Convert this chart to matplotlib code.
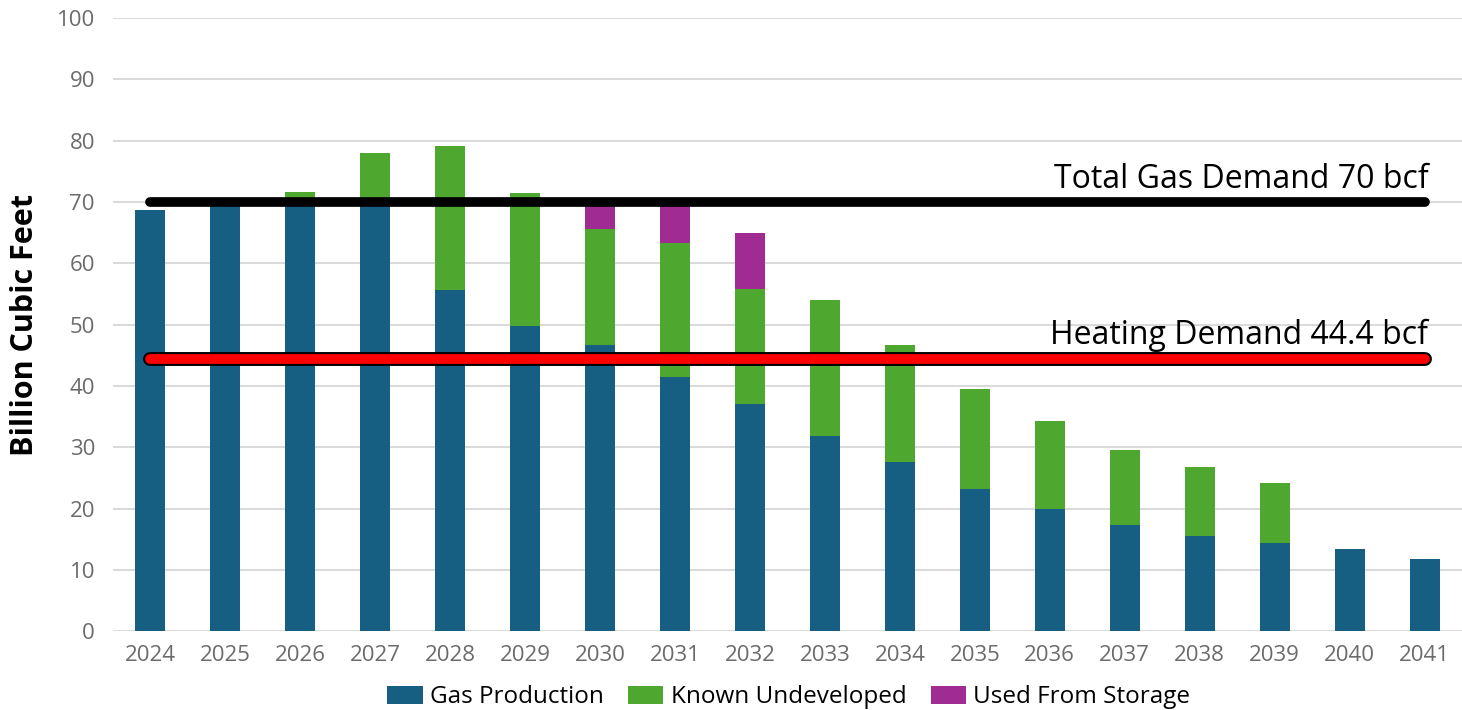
import matplotlib.pyplot as plt
import matplotlib.patheffects as pe
import numpy as np

plt.rcParams['font.family'] = ['Open Sans', 'DejaVu Sans']

# Data
years = [str(y) for y in range(2024, 2042)]
gas_production = [68.7, 69.6, 69.5, 69.3, 55.6, 49.8, 46.7, 41.4, 37.0,
                  31.8, 27.6, 23.2, 19.9, 17.3, 15.5, 14.4, 13.4, 11.7]
known_undeveloped = [0.0, 0.0, 2.1, 8.7, 23.5, 21.7, 18.9, 21.9, 18.8,
                     22.2, 19.1, 16.3, 14.4, 12.2, 11.3, 9.7, 0.0, 0.0]
used_from_storage = [0.0, 0.0, 0.0, 0.0, 0.0, 0.0, 4.4, 6.7, 9.1,
                     0.0, 0.0, 0.0, 0.0, 0.0, 0.0, 0.0, 0.0, 0.0]
total_demand = 70
heating_demand = 44.4

blue = "#175F82"
green = "#4EA72E"
purple = "#A02B93"

fig = plt.figure(figsize=(14.62, 7.10), dpi=100)
ax = fig.add_axes([0.0773, 0.111, 0.9227, 0.8636])

x = np.arange(len(years))
gas = np.array(gas_production)
known = np.array(known_undeveloped)
storage = np.array(used_from_storage)

w = 0.4
ax.bar(x, gas, w, color=blue, label="Gas Production", zorder=2)
ax.bar(x, known, w, bottom=gas, color=green, label="Known Undeveloped", zorder=2)
ax.bar(x, storage, w, bottom=gas + known, color=purple, label="Used From Storage", zorder=2)

# Demand lines
ax.plot([x[0], x[-1]], [total_demand, total_demand], color="black",
        lw=7, solid_capstyle="round", zorder=4)
ax.plot([x[0], x[-1]], [heating_demand, heating_demand], color="red",
        lw=7, solid_capstyle="round", zorder=4,
        path_effects=[pe.Stroke(linewidth=10, foreground="black"), pe.Normal()])

ax.text(x[-1] + 0.05, total_demand + 2.3, "Total Gas Demand 70 bcf", ha="right",
        va="baseline", fontsize=23, color="black")
ax.text(x[-1] + 0.05, heating_demand + 2.5, "Heating Demand 44.4 bcf", ha="right",
        va="baseline", fontsize=23, color="black")

ax.set_xlim(-0.5, len(years) - 0.5)
ax.set_ylim(0, 100)
ax.set_yticks(np.arange(0, 101, 10))
ax.set_xticks(x)
ax.set_xticklabels(years)
ax.tick_params(axis="both", length=0, labelsize=16, colors="#6b6b6b")
ax.tick_params(axis="x", pad=10)
ax.tick_params(axis="y", pad=13)
ax.yaxis.grid(True, color="#d9d9d9", lw=1.4, zorder=0)
ax.set_axisbelow(True)
for s in ax.spines.values():
    s.set_visible(False)

ax.set_ylabel("Billion Cubic Feet", fontsize=22, fontweight="bold", color="black", labelpad=12)

ax.legend(loc="center", bbox_to_anchor=(0.501, -0.108), ncol=3, frameon=False,
          fontsize=17.5, handlelength=1.45, handleheight=0.75, handletextpad=0.3,
          columnspacing=1.0, labelcolor="black")

fig.savefig("out.png", dpi=100)
